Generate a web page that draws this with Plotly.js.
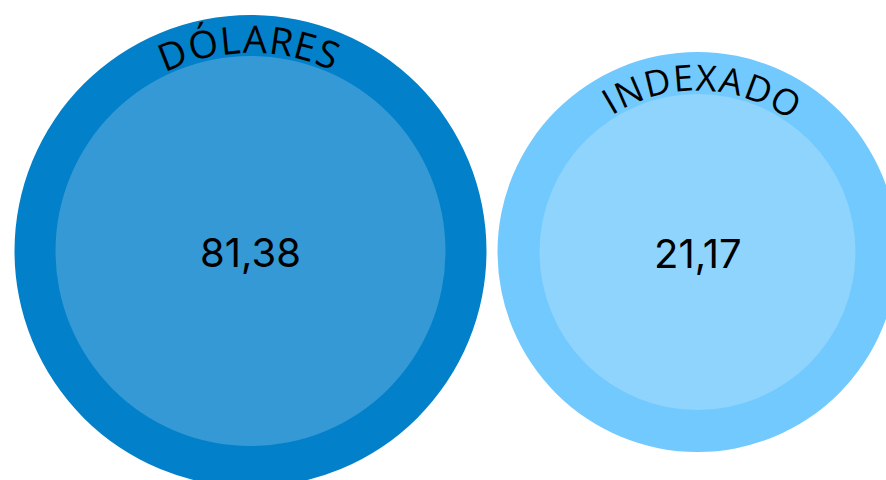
<!DOCTYPE html>
<html>
<head>
<meta charset="utf-8">
<script src="https://cdn.plot.ly/plotly-3.0.1.min.js"></script>
<style>html,body{margin:0;padding:0;background:#fff;}#chart{width:886px;height:480px;}</style>
</head>
<body>
<div id="chart"></div>
<script>
// ---- data ----
const categories = ['DÓLARES', 'INDEXADO'];
const values = [81.38, 21.17];

// ---- styling / layout ----
const geo = [
  {cx: 250.5, cy: 251, rOuter: 236, rInner: 195, outer: '#0281CA', inner: '#3599D5', textR: 213, arcDeg: 43, fontSize: 38},
  {cx: 697.5, cy: 252, rOuter: 200, rInner: 158, outer: '#72C9FE', inner: '#8FD4FD', textR: 175, arcDeg: 61, fontSize: 36}
];
const labelFont = 'Open Sans';
const valueFont = 'Inter';

const shapes = [];
const annotations = [];
const ctx = document.createElement('canvas').getContext('2d');

categories.forEach((cat, i) => {
  const g = geo[i];
  shapes.push({type: 'circle', xref: 'x', yref: 'y', layer: 'below',
    x0: g.cx - g.rOuter, x1: g.cx + g.rOuter, y0: g.cy - g.rOuter, y1: g.cy + g.rOuter,
    fillcolor: g.outer, line: {width: 0}});
  shapes.push({type: 'circle', xref: 'x', yref: 'y', layer: 'below',
    x0: g.cx - g.rInner, x1: g.cx + g.rInner, y0: g.cy - g.rInner, y1: g.cy + g.rInner,
    fillcolor: g.inner, line: {width: 0}});

  // curved label along the ring
  ctx.font = g.fontSize + 'px "' + labelFont + '"';
  const chars = Array.from(cat);
  const widths = chars.map(c => ctx.measureText(c).width);
  const n = chars.length;
  const base = [];
  let acc = 0;
  widths.forEach(w => { base.push(acc + w / 2); acc += w; });
  const targetSpan = g.textR * g.arcDeg * Math.PI / 180;
  const spacing = (targetSpan - (base[n - 1] - base[0])) / (n - 1);
  const pos = base.map((b, k) => b + k * spacing);
  const mid = (pos[0] + pos[n - 1]) / 2;
  chars.forEach((c, k) => {
    const theta = (pos[k] - mid) / g.textR; // radians, clockwise from top
    annotations.push({
      x: g.cx + g.textR * Math.sin(theta),
      y: g.cy - g.textR * Math.cos(theta),
      xref: 'x', yref: 'y', text: c, showarrow: false,
      xanchor: 'center', yanchor: 'middle',
      textangle: theta * 180 / Math.PI,
      font: {family: labelFont, size: g.fontSize, color: '#000'}
    });
  });

  // value label in the centre
  annotations.push({
    x: g.cx, y: g.cy, xref: 'x', yref: 'y',
    text: values[i].toFixed(2).replace('.', ','),
    showarrow: false, xanchor: 'center', yanchor: 'middle', yshift: -1,
    font: {family: valueFont, size: 40, color: '#000'}
  });
});

const layout = {
  width: 886, height: 480,
  margin: {l: 0, r: 0, t: 0, b: 0},
  paper_bgcolor: '#fff', plot_bgcolor: '#fff',
  xaxis: {range: [0, 886], visible: false, fixedrange: true},
  yaxis: {range: [480, 0], visible: false, fixedrange: true},
  shapes: shapes, annotations: annotations, showlegend: false
};

Plotly.newPlot('chart', [], layout, {displayModeBar: false, staticPlot: true});
</script>
</body>
</html>
